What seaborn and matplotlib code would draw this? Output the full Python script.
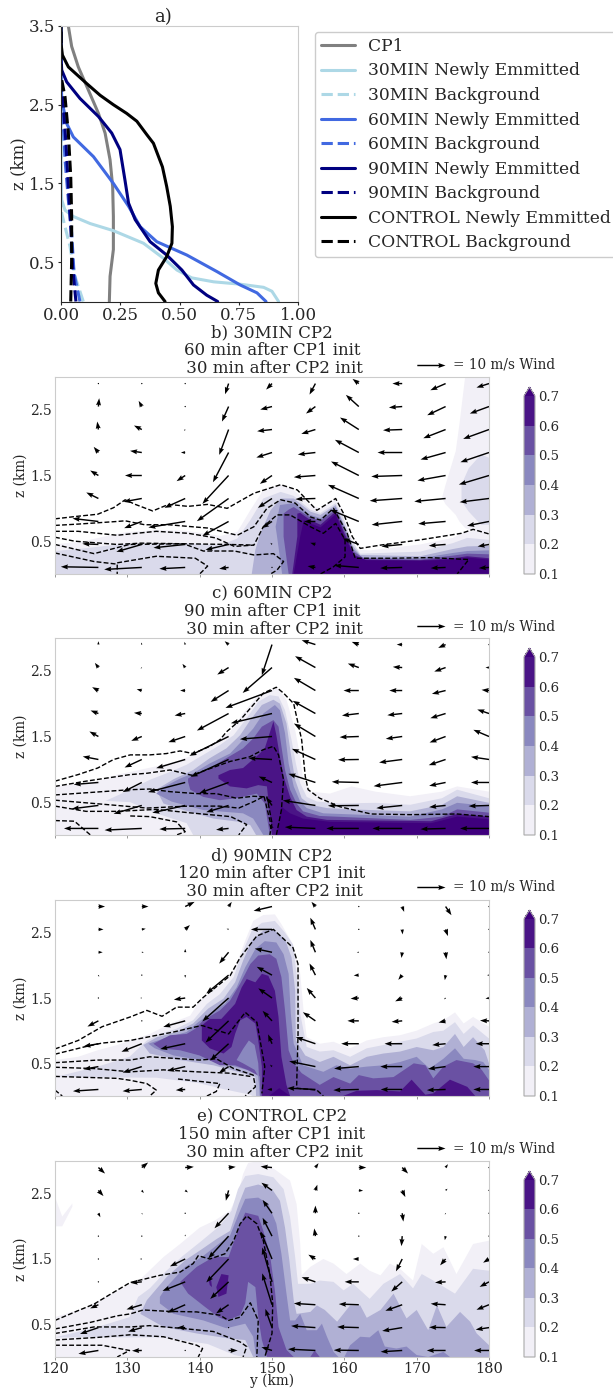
import numpy as np
import seaborn as sns
import matplotlib
matplotlib.use("Agg")
import matplotlib.pyplot as plt
from matplotlib.cm import ScalarMappable
from matplotlib.colors import BoundaryNorm, ListedColormap

W, H = 613, 1388
LEVELS = [0.1, 0.2, 0.3, 0.4, 0.5, 0.6, 0.7]
SHADES = ["#f2f0f7", "#dadaeb", "#b0b0d4", "#8a88bf", "#6a51a3", "#4a1486"]
OVER = "#3f007d"

# ---- panel a profiles
cp1_x = [0.204, 0.207, 0.221, 0.221, 0.218, 0.207, 0.186, 0.158, 0.115, 0.073, 0.045, 0.031]
cp1_z = [0, 0.32, 0.66, 1.08, 1.46, 1.80, 2.14, 2.39, 2.69, 2.98, 3.24, 3.5]
n30_x = [0.918, 0.89, 0.855, 0.756, 0.644, 0.552, 0.489, 0.432, 0.348, 0.221, 0.123, 0.052, 0.017, 0.003, 0, 0]
n30_z = [0, 0.13, 0.18, 0.22, 0.25, 0.30, 0.40, 0.55, 0.74, 0.90, 0.99, 1.08, 1.16, 1.29, 1.46, 3.5]
b30_x = [0.094, 0.059, 0.038, 0.017, 0.003, 0, 0]
b30_z = [0, 0.32, 0.70, 0.95, 1.12, 1.29, 3.5]
n60_x = [0.865, 0.827, 0.756, 0.658, 0.531, 0.404, 0.334, 0.285, 0.221, 0.137, 0.052, 0.024, 0.003, 0, 0]
n60_z = [0, 0.11, 0.21, 0.38, 0.59, 0.76, 0.95, 1.21, 1.50, 1.84, 2.09, 2.26, 2.56, 2.98, 3.5]
b60_x = [0.08, 0.055, 0.045, 0.031, 0.017, 0.01, 0, 0]
b60_z = [0, 0.36, 0.87, 1.29, 1.80, 2.22, 2.56, 3.5]
n90_x = [0.661, 0.615, 0.559, 0.510, 0.446, 0.376, 0.313, 0.285, 0.270, 0.249, 0.214, 0.158, 0.080, 0.024, 0.003, 0, 0]
n90_z = [0, 0.08, 0.21, 0.40, 0.59, 0.76, 1.04, 1.25, 1.54, 1.93, 2.14, 2.35, 2.58, 2.79, 2.94, 3.11, 3.5]
b90_x = [0.063, 0.049, 0.041, 0.031, 0.021, 0.01, 0, 0]
b90_z = [0, 0.44, 0.95, 1.46, 2.01, 2.48, 2.77, 3.5]
nct_x = [0.439, 0.411, 0.400, 0.411, 0.446, 0.468, 0.470, 0.461, 0.446, 0.428, 0.390, 0.362, 0.320, 0.277, 0.221, 0.165, 0.108, 0.031, 0.006, 0, 0]
nct_z = [0, 0.11, 0.23, 0.40, 0.57, 0.74, 0.95, 1.21, 1.46, 1.71, 2.01, 2.12, 2.29, 2.39, 2.50, 2.62, 2.77, 2.98, 3.13, 3.28, 3.5]
bct_x = [0.041, 0.045, 0.045, 0.041, 0.031, 0.017, 0, 0]
bct_z = [0, 0.53, 1.08, 1.59, 2.14, 2.60, 2.86, 3.5]

# ---- tracer bands, panel b: (y, top) and optional (y, bottom)
b1_y = [120,124,128,130,134,138,142.9,145.2,147,148.8,151.2,153,155.3,156.7,158.8,159.5,160.6,161.8,163.6,170.5,175,177,180]
b1_z = [.45,.5,.6,.64,.67,.66,.58,.64,.97,1.28,1.36,1.28,1.05,1,1.15,1.03,.62,.37,.36,.45,.55,.66,.6]
b1r_y = [173.5,174,175.4,175.9,176.7,178.3,180]
b1r_t = [1.16,1.36,1.87,2.27,3,3,3]
b1r_b = [1.16,1.06,.9,.8,.7,.62,.6]
b2_y = [120,124,128,130,134,138,142.9,145.2,147,148.8,151.2,153,155.3,156.7,158.8,159.7,161,162.2,170.5,175,177,180]
b2_z = [.35,.39,.44,.46,.47,.47,.44,.54,.82,1.15,1.25,1.19,.98,.93,1.08,.9,.52,.31,.34,.47,.55,.52]
b2r_y = [176.2,177.2,178.9,180]
b2r_t = [1.36,1.61,1.82,1.77]
b2r_b = [1.11,.95,.75,.75]
b3_y = [147.2,147.7,148.4,149.8,151.2,153,155.3,156.7,158.8,159.9,161.1,162.2,170.5,175,177,180]
b3_z = [0,.37,.62,.97,1.15,1.15,.95,.9,1.05,.77,.44,.29,.27,.38,.42,.43]
b4_y = [151.4,150.7,150.5,151.1,153,155.3,156.7,158.8,160,161.2,162.4,170.5,175,177,180]
b4_z = [0,.57,.72,1.05,1.08,.9,.85,1.02,.72,.39,.25,.24,.32,.35,.36]
b5_y = [152.3,151.6,151.6,152.3,153,155.3,156.7,158.8,160,161.3,162.7,170.5,175,177,180]
b5_z = [0,.57,.92,.98,1.02,.86,.81,.98,.67,.34,.24,.22,.28,.31,.3]
b6_y = [152.8,153.5,153.5,153.9,155.3,156.7,158.8,160,161.4,162.9,170.5,175,177,180]
b6_z = [0,.57,.92,.93,.82,.75,.95,.62,.29,.22,.21,.24,.27,.24]
b7_y = [153,153.9,154.4,155.3,156.7,158.8,159.9,161.5,163.1,170.5,175,177,180]
b7_z = [0,.57,.82,.77,.71,.91,.59,.26,.21,.2,.22,.25,.22]

# panel c
c1_y = [120,125.9,128.6,130.4,135,137.3,139.6,141.9,144.2,146,147.9,149.7,150.8,152,153.2,153.9,154.3,155.3,158,161,164.3,169.1,173.5,175.6,180]
c1_z = [.74,.82,.92,.96,1.07,1.14,1.24,1.4,1.57,1.85,2.1,2.21,2.23,2.06,1.6,1.19,.84,.66,.63,.74,.66,.59,.66,.74,.66]
c2_y = [127,130.4,133.1,135.9,138.2,140.5,142.8,144.7,146.5,148.1,149.7,150.9,151.8,152.7,153.3,153.9,154.8,156.2,159.4,164.3,169.1,173.5,175.6,180]
c2_z = [.52,.69,.84,.96,1.07,1.22,1.37,1.52,1.78,2.03,2.13,2.11,1.9,1.45,1.09,.79,.58,.51,.48,.49,.46,.56,.69,.56]
c2b_y = [127,130.4,134,138.2,139.1,180]
c2b_z = [.52,.5,.33,.18,0,0]
c3_y = [134,136.4,139.1,141.4,143.7,145.6,147,148.6,150.2,151.1,152,152.6,153.2,154.1,155.3,157.6,161,169.1,173.5,175.6,180]
c3_z = [.69,.85,.99,1.17,1.32,1.52,1.75,1.98,2.06,2,1.7,1.24,.84,.56,.46,.41,.39,.36,.46,.59,.49]
c3b_y = [134,135,137.8,141.9,145.5,147,147.8,180]
c3b_z = [.69,.48,.38,.25,.2,.15,0,0]
c4_y = [134,135.2,137.3,139.1,141.4,144.2,146,147.4,148.8,150.4,151.1,151.8,152.3,153,153.9,154.8,157.1,169.1,173.5,175.6,180]
c4_z = [.63,.74,.86,.94,1.09,1.24,1.45,1.62,1.85,1.98,1.9,1.55,1.09,.74,.51,.41,.33,.28,.39,.49,.44]
c4b_y = [134,136.1,140.5,146,147.4,148.8,180]
c4b_z = [.63,.51,.38,.33,.25,0,0]
c5_y = [138.4,139.6,141.4,143.7,146,147.4,148.6,150.2,150.9,151.3,151.8,152.5,153.4,154.3,156.6,169.1,173.5,175.6,180]
c5_z = [.86,.94,1.02,1.17,1.32,1.47,1.65,1.75,1.65,1.35,.99,.69,.48,.36,.29,.23,.28,.39,.34]
c5b_y = [138.4,138.7,140.5,142.8,145.1,147.9,149,149.7,180]
c5b_z = [.81,.69,.58,.53,.56,.63,.48,0,0]
c6_y = [142.6,144.2,146,148.1,149,150.2,150.6,151.1,151.6,152.5,153.4,154.8,157.6,172,175.6,180]
c6_z = [.91,.99,1.02,1.22,1.32,1.73,1.52,1.19,.89,.58,.38,.28,.23,.21,.32,.28]
c6b_y = [142.6,144.2,146.5,148.1,149.3,150,180]
c6b_z = [.86,.74,.71,.76,.74,0,0]
c7_y = [150.6,151.3,152.5,154.3,158,172,175.6,180]
c7_z = [0,.43,.33,.25,.2,.18,.28,.24]

# panel d
d1_y = [120,123.2,125.9,128.6,130.4,133.1,136.4,138.7,140,141.9,143.7,145.1,146.3,147.4,148.8,150.4,151.3,152.9,153.9,154.4,154.8,156.6,158.5,160.8,163.1,165.4,167.7,170,172.3,173.7,175.3,176.5,177.8,180]
d1_z = [.55,.6,.7,.78,.85,.95,1.13,1.23,1.46,1.61,1.77,2.02,2.38,2.68,2.77,2.78,2.63,2.32,1.87,1.26,.9,.8,.83,.73,.85,.9,.93,1,1.11,1.16,1.28,1.11,1.21,1.06]
d2_y = [120,125.9,130.3,132.7,134.5,136.8,139.1,141,142.8,144.7,145.8,147.2,148.6,150.4,151.8,152.9,153.4,153.9,154.8,156.6,158.5,160.8,163.1,165.4,167.7,170,172.3,173.7,175.3,176.5,177.8,180]
d2_z = [.29,.45,.6,.85,.95,1.03,1.16,1.41,1.56,1.82,2.17,2.53,2.65,2.68,2.5,2.32,1.87,1.26,.75,.68,.7,.6,.73,.78,.83,.88,.98,1,1.13,.95,1.08,.88]
d2b_y = [120,134,139.8,143.5,147,147.3,180]
d2b_z = [.29,.28,.2,.1,.02,0,0]
d3_y = [132.2,134.1,136.8,139.1,141.2,143.3,144.9,146,147.2,148.8,150.2,151.8,152.7,153.2,153.3,154.6,156.6,158.5,160.8,163.1,165.4,167.7,170,172.3,173.7,175.3,176.5,177.8,179.4,180]
d3_z = [.78,.9,.98,1.11,1.34,1.49,1.74,2.07,2.38,2.53,2.55,2.4,2.12,1.61,.85,.62,.52,.6,.47,.6,.65,.68,.75,.7,.75,.95,.75,.9,.7,.5]
d3b_y = [132.2,133.1,137.3,141.9,146,147.7,147.8,180]
d3b_z = [.78,.65,.55,.47,.35,.29,0,0]
d4_y = [132.9,135,138.2,139.8,141.4,143.5,145.1,146.3,147.7,149,150.6,151.6,152.3,152.6,153,154.3,157.1,158.9,160.8,163.1,165.4,167.7,170,171.8,173.7,175.3,176.5,178.1,179.2,180]
d4_z = [.8,.88,.98,1.13,1.26,1.41,1.66,1.97,2.25,2.37,2.35,2.17,1.87,1.26,.8,.47,.37,.47,.42,.45,.47,.52,.6,.42,.57,.73,.57,.55,.52,.4]
d4b_y = [132.9,133.8,136.4,139.1,141.9,144.2,146.5,148.1,148.3,180]
d4b_z = [.8,.73,.62,.57,.55,.47,.4,.35,0,0]
d5_y = [133.6,135.9,138.2,139.4,140.5,142.8,144.2,145.6,147,148.1,149.7,150.6,151.3,151.8,152.3,153,154.1,156.6,158.5,160.8,162,164,166.8,169.6,171.2,172.3,173.7,175.5,177.8,179,180]
d5_z = [.8,.93,.95,1.03,1.16,1.31,1.46,1.72,2.02,2.15,2.17,2.1,1.82,1.31,.7,.5,.35,.17,.29,.19,.32,.27,.29,.5,.47,.27,.45,.55,.5,.4,.24]
d5b_y = [133.6,134.5,137.3,140,142.8,144.9,146.6,148.3,148.4,180]
d5b_z = [.8,.73,.7,.62,.47,.47,.4,.3,0,0]
d6_y = [140.3,141.4,143,144.9,145.8,146.5,147.7,148.6,149.5,150.4,150.9,151.3,152,152.5]
d6_z = [1.08,1.18,1.18,1.41,1.66,1.79,1.74,1.87,1.84,1.61,1.21,.6,.17,0]
d6b_y = [140.3,140.3,141.4,143.3,144.4,144.9,145.6,146.5,147.7,148.1,148.6,148.6,152.5]
d6b_z = [1.08,.85,.73,.65,.75,.95,1.16,1.21,1.11,.85,.45,0,0]
d7_y = [159.8,161.7,164.5,167.7,169.3,171.2,172.3,174.6,177,178.1]
d7_z = [0,.08,.09,.07,.25,.02,.04,.25,.14,0]
d9_y = [149.6,151,152.5]
d9_z = [0,.12,0]
dh_y = [145.1,146,146.8,147.6,148.1,148.3]
dh_t = [.55,.72,.85,.78,.5,.1]
dh_b = [.55,.5,.45,.4,.3,.1]

# panel e
e1_y = [120,124.3,128.6,131.9,135,137.3,140,142.1,144.2,145.3,146,146.7,148.3,150.4,152.5,153.4,153.9,154.1,155.3,157.1,158.5,160.3,162.2,163.5,165,166.3,167.7,169.5,170.7,172.3,173.7,175.5,177.8,180]
e1_z = [.61,.76,1.02,1.2,1.53,1.73,1.98,2.09,2.24,2.49,2.8,2.97,3,2.87,2.7,2.34,1.73,1.25,1.38,1.5,1.43,1.27,1.43,1.32,1.25,1.43,1.35,1.17,1.73,1.58,1.68,1.27,1.73,1.78]
e0_y = [120,121,122.4]
e0_t = [2.45,2.15,2.35]
e0_b = [2,2,2.3]
e2_y = [120,125.9,130.3,131.5,133.1,135.4,137.7,140.3,142.8,144.4,145.3,146.3,148.1,150.2,151.6,152.5,153.2,153.6,155.3,156.6,158.5,159.9,161.2,163.5,165.4,167.7,169.5,170.7,172.3,175.3,177.8,180]
e2_z = [.3,.46,.61,.92,1.05,1.32,1.55,1.78,2.01,2.24,2.57,2.77,2.8,2.75,2.57,2.14,1.53,1.12,1.12,1.17,1.15,1.02,1.12,.89,1.12,1.27,1.05,1.27,1.17,.97,1.35,1.32]
e2b_y = [120,134.6,141.1,144.8,146.2,180]
e2b_z = [.3,.3,.2,.03,0,0]
e3_y = [131.8,132.7,135.4,138,140.3,142.4,144.2,145.4,146.3,148.1,150,151.1,151.8,152.4,153,153.4,155.3,156.2,157.3,159,160.8,162.2,163.1,165,166.8,168.6,170,171.6,172.8,174.1,176,177.4,178.3,180]
e3_z = [.66,.87,1.22,1.48,1.65,1.81,1.93,2.34,2.59,2.64,2.57,2.39,1.98,1.48,.87,.66,.69,.79,.72,.54,.79,.79,.6,.72,.97,.59,.72,.41,.79,.46,.69,.54,.36,.18]
e3b_y = [131.8,135,139.6,144.2,146.3,147.4,180]
e3b_z = [.66,.46,.36,.28,.26,0,0]
e4_y = [134.5,135.4,138,140.3,142.6,144.2,145.4,146.3,148.1,149.5,150.6,151.3,152,152.5,153.2,153.9,154.8,156.2,156.9,157.6,158.5,159.2]
e4_z = [.92,1.07,1.38,1.53,1.73,1.86,2.19,2.42,2.44,2.34,2.04,1.58,.97,.56,.56,.66,.41,.41,.51,.31,.08,0]
e4b_y = [134.5,134.5,136.4,140.5,143.7,146.3,147.4,147.8,159.2]
e4b_z = [.92,.82,.66,.56,.44,.51,.31,0,0]
e4r_y = [160,160.8,162.2,163.5,164.7,165.6,167.2,168.6,170,171.6,173.7,174.6]
e4r_z = [0,.18,.31,.3,.41,.16,.13,.16,.03,0,.08,0]
e5_y = [137.3,139.6,141.9,144,145.1,146.3,148.1,148.8,149.7,150.4,150.9,152,153]
e5_z = [1.15,1.38,1.53,1.53,1.88,2.21,2.16,1.93,1.58,1.02,.46,.11,0]
e5b_y = [137.3,138.4,140.7,142.6,143.7,145.6,146.3,146.7,147.7,148.1,148.6,149.3,153]
e5b_z = [1.15,.97,.77,.61,.56,.64,.82,1.15,1.07,.61,.26,0,0]
e5r_y = [155.3,155.9,156.6]
e5r_z = [0,.1,0]
e6_y = [142.3,143,144,143.7]
e6_t = [1.07,1.27,1.25,.97]
e6by = [142.3,142.6,143.7]
e6_b = [1.07,.92,.97]
e7_y = [141.2,141.6,141.7]
e7_t = [1.2,1.17,1.07]
e7by = [141.2,141.4,141.7]
e7_b = [1.2,1.1,1.07]

# ---- background tracer contours (dashed)
bd1_y = [120,123.2,125.9,128.1,129.7,131.1,133.5,135.7,138.4,141.1,143.8,147.5,151.2,153.5,156.2,158.8,159.9,161.1,162.2,165,170.5,176.2,177.8,180]
bd1_z = [.84,.88,.91,1.01,1.13,1.06,.96,1.06,1.03,1.06,1,1.23,1.36,1.28,.97,1.15,.92,.57,.39,.44,.52,.62,.68,.61]
bd2_y = [120,123.2,128.6,129.7,132.4,135.7,141.1,145.2,147.5,149.3,151.2,153.2,155.3,156.7,158.5,160.4,161.5,166.4,171.8,177.2,175.6]
bd2_z = [.74,.76,.8,.81,.75,.75,.7,.59,.72,1,1.13,1.08,.87,.82,1,.62,.24,.24,.25,.22,0]
bd3_y = [120,123.2,128.6,134,138.4,142.2,144.8,147.5,148.8,150.7,152.5,155.3,157.1,158.8,160.1,160.1,158.5,156.7]
bd3_z = [.65,.65,.59,.65,.62,.55,.42,.44,.72,.9,.9,.72,.62,.77,.52,.26,.11,0]
bd4_y = [120,122.7,128.6,131.9,138,144,147.5]
bd4_z = [.56,.5,.45,.47,.46,.45,.44]
bd5_y = [120,125.4,130.3,137.8,140.5,144.8,147.5,150.2,151.6,150.7,149.8]
bd5_z = [.45,.31,.45,.46,.35,.35,.29,.31,.19,.06,0]
bd6_y = [120,125.4,128.6,128.6]
bd6_z = [.32,.19,.15,0]
bd7_y = [128.6,134,139.4,141.1,140]
bd7_z = [.17,.27,.24,.12,0]

cd1_y = [120,123.2,125.9,128.1,130.4,133.1,135.4,137.3,139.1,141.4,142.8,143.7,145.6,148.8,150.6,151.6,153,154.1,154.6,155,156.6,159.4,163.7,169.1,175.6,180]
cd1_z = [.82,.92,1.02,1.15,1.22,1.22,1.24,1.28,1.24,1.35,1.45,1.57,1.75,2.16,2.25,2.16,2,1.45,.89,.69,.56,.43,.32,.31,.32,.28]
cd2_y = [120,124.3,130.4,132.7,135.9,138.9,141.4,144.2,146.9,148.8,150.2,150.9,151.6,151.3,150.6]
cd2_z = [.74,.82,.92,.94,.99,.91,1.01,1.12,1.19,1.3,1.35,1.22,.84,.38,0]
cd3_y = [120,130.4,133.1,135.9,139.6,142.3,145.1,147.4,149.3,150,149.7]
cd3_z = [.61,.69,.7,.66,.63,.63,.56,.59,.58,.18,0]
cd4_y = [120,128.6,132.7,138.4,142.7,145.4,147.5,148.9,149.8]
cd4_z = [.53,.45,.41,.44,.44,.41,.51,.59,.18]
cd5_y = [120,124.3,128.6,134,138.4,144.3,146.5,145.4]
cd5_z = [.44,.36,.36,.39,.34,.28,.16,0]
cd6_y = [120,122.7,124.9]
cd6_z = [.22,.21,0]
cd7_y = [130.4,133.1,136.8,138,136.8]
cd7_z = [.29,.28,.2,.05,0]

dd1_y = [120,123.2,126.5,130.4,132.7,134.8,136.8,139.1,140.5,144.2,145.6,147.9,150.2,152.9,153.6,153.6,153.4,156.2,157.1]
dd1_z = [.72,.85,1.06,1.21,1.31,1.22,1.36,1.36,1.51,1.84,2.12,2.45,2.55,2.27,2.02,.95,.12,.09,0]
dd2_y = [120,124,126.5,130.4,132.7,136.4,140.3,144,146.3,147.9,149,148.6]
dd2_z = [.64,.75,.81,.85,.9,.98,1.08,.95,1.28,1.13,.45,.04]
dd3_y = [120,125.9,130.4,133.1,137.3,140,142.3,144.7,147.4,147.7,146.3]
dd3_z = [.51,.55,.55,.6,.57,.55,.57,.42,.32,.14,0]
dd4_y = [120,125.4,130.4,135,139.6,144,147]
dd4_z = [.44,.42,.37,.4,.37,.35,.3]
dd5_y = [120,128.6,130.4,132.7,134,133.1]
dd5_z = [.3,.27,.24,.19,.09,0]
dd6_y = [137,142.8,142.3,141]
dd6_z = [.26,.19,.07,0]
dd7_y = [120,121]
dd7_z = [.09,0]

ed1_y = [120,123.2,125.4,128.1,130.4,134.5,137.3,139.1,139.8,141.4,143.5,144.7,145.6,146.5,147.9,148.8,149.7,150.1,150,149]
ed1_z = [.56,.71,.81,.99,1.14,1.25,1.3,1.43,1.55,1.5,1.58,1.78,2.04,2.16,2.04,1.78,1.27,.82,.36,0]
ed2_y = [120,124.9,128.6,130.4,132.2,135.4,139.6,142.8,144,145.6,147,148.1,147.9]
ed2_z = [.43,.53,.63,.66,.72,.7,.69,.64,.56,.61,.83,.56,0]
ed3_y = [120,125.4,130.4,133.1,137.3,141.9,145.6,146.5,146]
ed3_z = [.36,.46,.46,.48,.44,.39,.23,.16,0]
ed4_y = [120,125.9,130.4,135,139.6,140.4,139.8]
ed4_z = [.26,.3,.34,.31,.18,.13,0]
ed5_y = [120,126.5,130.3,128.6]
ed5_z = [.18,.18,.1,0]

# ---- wind, rows top to bottom (2.9 ... 0.1 km), columns 126 ... 180 km
WIND_Y = [126, 132, 138, 144, 150, 156, 162, 168, 174, 180]
WIND_Z = [2.9, 2.55, 2.2, 1.85, 1.5, 1.15, 0.8, 0.45, 0.1]
u_b = [[0,0,0,-9,-15,-15,-16,-25,-39,-32],
       [2,-8,0,-17,-30,-24,-33,-34,-47,-49],
       [-3,-20,-3,-24,-38,-36,-48,-49,-57,-66],
       [-12,-30,-11,-40,-40,-45,-61,-63,-64,-73],
       [-21,-43,-22,-67,-31,-55,-71,-79,-72,-77],
       [-31,-47,-53,-81,-36,-51,-79,-83,-80,-75],
       [-66,-45,-94,-67,-26,-29,-73,-78,-70,-56],
       [-41,-65,-81,-59,-4,-13,-41,-53,-43,-29],
       [-96,-96,-66,-24,0,-20,-63,-56,-38,-26]]
v_b = [[3,2,0,-32,-18,-33,14,0,-20,-12],
       [25,17,1,-45,-9,-21,35,-3,-26,-21],
       [24,12,-4,-76,-5,-13,36,-2,-26,-28],
       [17,5,0,-89,-15,-6,38,0,-21,-29],
       [15,0,-17,-85,-25,-5,42,-3,-15,-27],
       [18,-10,-28,-68,-28,-2,41,-7,-9,-11],
       [9,-20,-18,-43,-20,0,35,-10,-7,-13],
       [2,-22,-10,-16,5,5,18,-6,-4,-6],
       [2,-6,-4,-4,0,4,6,-2,-2,-2]]
u_c = [[0,-2,-2,-10,-26,-35,-18,-14,-19,0],
       [-9,-3,-7,-29,-75,-52,-28,-24,-29,-9],
       [-16,-13,-13,-46,-119,-55,-39,-33,-35,-19],
       [-20,-20,-27,-81,-105,-58,-43,-38,-39,-30],
       [-23,-27,-43,-100,-82,-55,-49,-42,-41,-40],
       [-40,-44,-74,-97,-60,-60,-53,-59,-43,-46],
       [-63,-49,-95,-75,-34,-69,-69,-73,-42,-46],
       [-68,-72,-84,-57,-15,-83,-79,-66,-42,-52],
       [-88,-95,-66,-32,-7,-78,-83,-76,-64,-74]]
v_c = [[10,6,8,10,-92,13,8,0,-10,0],
       [14,-3,11,-21,-76,34,12,2,-12,0],
       [10,4,0,-34,-52,38,0,0,-10,2],
       [9,2,-6,-51,-29,38,-6,-5,-14,12],
       [15,-13,-17,-58,-8,39,-2,-7,-18,20],
       [9,-24,-26,-52,4,32,-1,-9,-17,8],
       [-6,-29,-29,-32,18,26,2,-11,-10,0],
       [-10,-25,-22,-20,25,15,-1,-8,-5,-2],
       [0,-5,-2,-4,14,4,0,0,-2,0]]
u_d = [[17,17,24,8,-47,-10,-2,5,15,0],
       [13,10,12,-5,-54,-13,0,1,6,0],
       [11,5,0,-24,-44,-13,-5,-2,2,0],
       [2,0,0,-57,-39,-15,-13,-10,-2,-5],
       [0,-4,-29,-67,-35,-22,-21,-18,-4,-9],
       [-28,0,-56,-59,-24,-32,-29,-27,-18,-23],
       [-38,-52,-64,-47,-10,-50,-45,-45,-34,-34],
       [-38,-49,-46,-25,-5,-67,-63,-56,-45,-40],
       [-65,-49,-24,0,-12,-72,-65,-55,-48,-40]]
v_d = [[0,0,14,14,-13,14,2,-16,-26,0],
       [0,2,13,2,0,35,0,-15,-20,0],
       [0,0,10,-34,11,37,0,-17,-21,3],
       [-5,-3,-8,-55,25,35,-1,-14,-15,0],
       [0,0,-5,-70,29,30,-2,-10,-4,-2],
       [-17,0,-18,-65,30,26,0,-3,-5,1],
       [-8,-24,-16,-50,28,20,0,0,-4,0],
       [-8,-18,-13,-19,6,16,-6,0,-7,0],
       [-5,-5,-2,4,0,4,-2,0,-2,0]]
u_e = [[17,16,22,18,-29,8,19,15,6,0],
       [13,5,7,-7,-27,5,11,8,5,0],
       [5,2,2,-36,-24,0,0,3,-2,0],
       [2,1,0,-52,-24,-3,0,-2,-2,0],
       [0,-5,-39,-57,-29,-18,-15,-16,-14,-15],
       [0,-29,-58,-47,-25,-35,-36,-28,-27,-24],
       [-21,-39,-46,-32,-25,-55,-51,-43,-38,-32],
       [-47,-35,-21,0,-17,-62,-55,-51,-42,-34],
       [-51,-25,0,23,-27,-70,-64,-55,-48,-38]]
v_e = [[-18,15,2,2,3,13,0,-18,10,0],
       [-17,-8,-6,-31,23,17,-1,-20,5,0],
       [-12,-4,-3,-45,40,23,0,-25,-4,0],
       [-3,-4,5,-67,55,23,0,-30,-12,3],
       [0,0,-22,-70,83,13,0,-37,-19,-11],
       [0,-3,-27,-51,103,14,0,-29,-2,-15],
       [-11,-14,-24,-26,94,4,2,-18,3,-15],
       [-19,-12,0,0,56,5,2,-10,1,-6],
       [-10,-1,0,0,10,4,1,-4,0,0]]

sns.set_style("ticks")
plt.rcParams["font.family"] = ["DejaVu Serif"]
plt.rcParams["axes.linewidth"] = 0.8

FILLS = SHADES + [OVER]


def add_axes_px(fig, left, top, right, bottom):
    return fig.add_axes([left / W, 1 - bottom / H, (right - left) / W, (bottom - top) / H])


def band(ax, level, y_top, z_top, y_bot=None, z_bot=None):
    # one shaded band outline: along the top, back along the bottom
    if y_bot is None:
        y_bot, z_bot = [y_top[0], y_top[-1]], [0, 0]
    ax.fill(list(y_top) + list(y_bot)[::-1], list(z_top) + list(z_bot)[::-1],
            color=FILLS[level - 1], lw=0, zorder=1)


def panel(fig, top, bottom, title, bands, dashes, u, v, key_y):
    ax = add_axes_px(fig, 55, top, 489, bottom)
    for b in bands:
        band(ax, *b)
    for dy, dz in dashes:
        ax.plot(dy, dz, color="black", lw=1, ls=(0, (3.5, 1.6)), zorder=2)
    # 72 units = 10 m/s along x on the reference; vertical reading differs
    yy, zz = np.meshgrid(WIND_Y, WIND_Z)
    q = ax.quiver(yy, zz, np.array(u) / 7.2, np.array(v) / 8.44, color="black",
                  angles="uv", scale=154, scale_units="width", units="width",
                  width=0.0033, headwidth=3.5, zorder=3)
    ax.quiverkey(q, 445 / W, 1 - key_y / H, 10, "= 10 m/s Wind", labelpos="E",
                 coordinates="figure", labelsep=0.08, fontproperties={"size": 9.8})
    ax.set_xlim(120, 180)
    ax.set_ylim(0, 3)
    ax.set_xticks(range(120, 181, 10))
    ax.set_xticklabels([])
    ax.set_yticks([0.5, 1.5, 2.5])
    ax.tick_params(axis="y", length=0, pad=2, labelsize=10)
    ax.tick_params(axis="x", length=2, width=0.6, color="#888888", labelsize=10.5, pad=1.5)
    ax.set_ylabel("z (km)", fontsize=9.8, labelpad=2)
    ax.set_title(title, fontsize=12, pad=2, linespacing=1.08)
    for s in ax.spines.values():
        s.set_color("#cccccc")

    cax = add_axes_px(fig, 524, top + 10, 535, bottom)
    cm = ListedColormap(SHADES)
    cm.set_over(OVER)
    cb = fig.colorbar(ScalarMappable(BoundaryNorm(LEVELS, cm.N), cm), cax=cax,
                      extend="max", extendfrac=0.05, ticks=LEVELS, spacing="proportional")
    cb.ax.tick_params(length=0, labelsize=9.5, pad=2)
    cb.ax.set_yticklabels(["0.1", "0.2", "0.3", "0.4", "0.5", "0.6", "0.7"])
    cb.outline.set_edgecolor("#aaaaaa")
    return ax


fig = plt.figure(figsize=(W / 100, H / 100), dpi=100)

# panel a
ax = add_axes_px(fig, 61, 26, 298, 301.5)
profiles = [
    (cp1_x, cp1_z, "gray", "-", "CP1"),
    (n30_x, n30_z, "lightblue", "-", "30MIN Newly Emmitted"),
    (b30_x, b30_z, "lightblue", "--", "30MIN Background"),
    (n60_x, n60_z, "royalblue", "-", "60MIN Newly Emmitted"),
    (b60_x, b60_z, "royalblue", "--", "60MIN Background"),
    (n90_x, n90_z, "navy", "-", "90MIN Newly Emmitted"),
    (b90_x, b90_z, "navy", "--", "90MIN Background"),
    (nct_x, nct_z, "black", "-", "CONTROL Newly Emmitted"),
    (bct_x, bct_z, "black", "--", "CONTROL Background"),
]
for px, pz, colr, style, name in profiles:
    sns.lineplot(x=px, y=pz, orient="y", sort=False, estimator=None, color=colr,
                 linestyle=style, lw=2.2, label=name, ax=ax)
ax.set_xlim(0, 1)
ax.set_ylim(0, 3.5)
ax.set_xticks([0, 0.25, 0.5, 0.75, 1])
ax.set_xticklabels(["0.00", "0.25", "0.50", "0.75", "1.00"])
ax.set_yticks([0.5, 1.5, 2.5, 3.5])
ax.tick_params(length=2, labelsize=12, pad=2)
ax.set_ylabel("z (km)", fontsize=12, labelpad=1)
ax.set_title("a)", fontsize=13, x=0.43, pad=3)
ax.spines["top"].set_color("#cccccc")
ax.spines["right"].set_color("#cccccc")
ax.legend(loc="upper left", bbox_to_anchor=(315 / W, 1 - 32 / H), bbox_transform=fig.transFigure,
          fontsize=12.3, handlelength=2.0, labelspacing=0.44, borderaxespad=0, frameon=True,
          edgecolor="#cccccc", framealpha=1, borderpad=0.35, handletextpad=0.75)

panel(fig, 377, 574, "b) 30MIN CP2\n60 min after CP1 init\n 30 min after CP2 init",
      [(1, b1_y, b1_z), (1, b1r_y, b1r_t, b1r_y, b1r_b), (2, b2_y, b2_z), (2, b2r_y, b2r_t, b2r_y, b2r_b),
       (3, b3_y, b3_z), (4, b4_y, b4_z), (5, b5_y, b5_z), (6, b6_y, b6_z), (7, b7_y, b7_z)],
      [(bd1_y, bd1_z), (bd2_y, bd2_z), (bd3_y, bd3_z), (bd4_y, bd4_z), (bd5_y, bd5_z), (bd6_y, bd6_z), (bd7_y, bd7_z)],
      u_b, v_b, 365)
panel(fig, 638, 835, "c) 60MIN CP2\n90 min after CP1 init\n 30 min after CP2 init",
      [(1, c1_y, c1_z), (2, c2_y, c2_z, c2b_y, c2b_z), (3, c3_y, c3_z, c3b_y, c3b_z),
       (4, c4_y, c4_z, c4b_y, c4b_z), (5, c5_y, c5_z, c5b_y, c5b_z), (6, c6_y, c6_z, c6b_y, c6b_z), (7, c7_y, c7_z)],
      [(cd1_y, cd1_z), (cd2_y, cd2_z), (cd3_y, cd3_z), (cd4_y, cd4_z), (cd5_y, cd5_z), (cd6_y, cd6_z), (cd7_y, cd7_z)],
      u_c, v_c, 626)
panel(fig, 900, 1096, "d) 90MIN CP2\n120 min after CP1 init\n 30 min after CP2 init",
      [(1, d1_y, d1_z), (2, d2_y, d2_z, d2b_y, d2b_z), (3, d3_y, d3_z, d3b_y, d3b_z),
       (4, d4_y, d4_z, d4b_y, d4b_z), (5, d5_y, d5_z, d5b_y, d5b_z), (6, d6_y, d6_z, d6b_y, d6b_z),
       (6, d7_y, d7_z), (7, d9_y, d9_z), (4, dh_y, dh_t, dh_y, dh_b)],
      [(dd1_y, dd1_z), (dd2_y, dd2_z), (dd3_y, dd3_z), (dd4_y, dd4_z), (dd5_y, dd5_z), (dd6_y, dd6_z), (dd7_y, dd7_z)],
      u_d, v_d, 887)
ax = panel(fig, 1161, 1357, "e) CONTROL CP2\n150 min after CP1 init\n 30 min after CP2 init",
           [(1, e0_y, e0_t, e0_y, e0_b), (1, e1_y, e1_z), (2, e2_y, e2_z, e2b_y, e2b_z), (3, e3_y, e3_z, e3b_y, e3b_z),
            (4, e4_y, e4_z, e4b_y, e4b_z), (4, e4r_y, e4r_z), (5, e5_y, e5_z, e5b_y, e5b_z), (5, e5r_y, e5r_z),
            (6, e6_y, e6_t, e6by, e6_b), (6, e7_y, e7_t, e7by, e7_b)],
           [(ed1_y, ed1_z), (ed2_y, ed2_z), (ed3_y, ed3_z), (ed4_y, ed4_z), (ed5_y, ed5_z)],
           u_e, v_e, 1148)
ax.set_xticklabels([str(t) for t in range(120, 181, 10)])
ax.set_xlabel("y (km)", fontsize=9.8, labelpad=-1.5)

fig.savefig("out.png", dpi=100)
